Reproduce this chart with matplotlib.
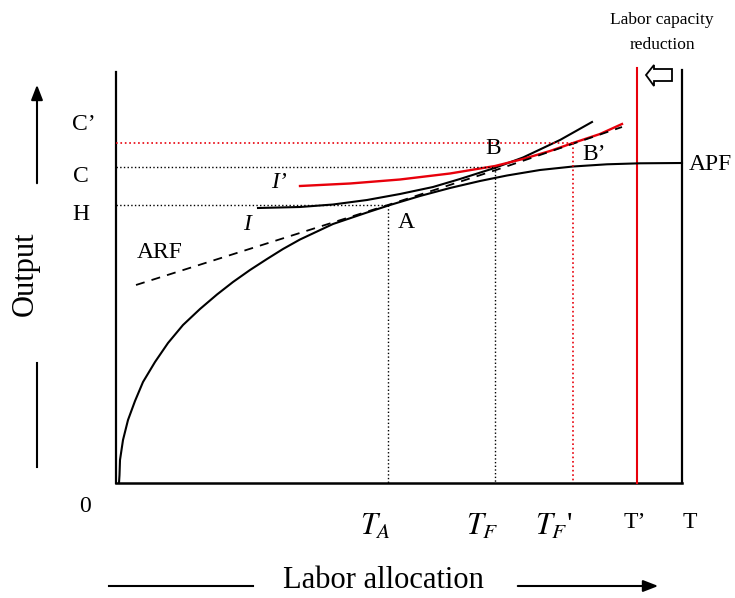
import matplotlib; matplotlib.use('Agg')
import numpy as np
from matplotlib import pyplot as plt
from matplotlib.patches import Polygon

plt.rcParams.update({
    'font.family': ['Liberation Serif', 'DejaVu Serif'],
    'mathtext.fontset': 'stix',
})

# Diagram traced in picture units (x to the right, y downward)
# APF: average product function
apf_x = [119, 119.5, 120, 121.5, 123, 128, 135, 143, 155, 168, 183, 200, 217,
         233, 250, 267, 283, 300, 333, 367, 390, 420, 450, 480, 507, 540, 573,
         607, 640, 682]
apf_y = [483, 475, 460, 450, 440, 420, 401, 382, 362, 343, 325, 309, 294.5,
         282, 270, 259, 249, 239.5, 224, 212.5, 205, 196, 188, 181, 175.5, 170, 166.5,
         164.3, 163.3, 163]

# I: indifference curve (before)
i_x = [258, 300, 333, 367, 400, 433, 460, 493, 523, 560, 592]
i_y = [208, 207, 204.5, 200, 194, 187, 179, 168.5, 157.5, 140, 122]

# I': indifference curve (after labour reduction)
i2_x = [300, 350, 400, 450, 495, 523, 550, 573, 600, 622]
i2_y = [186, 183.5, 179.5, 173.5, 166, 159, 151, 143, 134, 124]

# ARF: dashed
arf_x = [136, 388, 496, 622]
arf_y = [285, 205, 170, 127]

# reference levels
x_left, x_right, x_tprime = 116, 682, 637
y_base, y_top = 483, 70
y_H, y_C, y_C2 = 205, 167, 143
x_TA, x_TF, x_TF2 = 388, 495, 573

fig = plt.figure(figsize=(7.35, 5.98), dpi=100)
ax = fig.add_axes([0, 0, 1, 1])
ax.set_xlim(0, 735)
ax.set_ylim(598, 0)
ax.axis('off')

K = 'black'
R = '#e8000b'

# frame
ax.plot([x_left, x_left], [y_top + 2, y_base], color=K, lw=1.6)
ax.plot([x_left, x_right], [y_base, y_base], color=K, lw=1.8)
ax.plot([x_right, x_right], [y_top, y_base], color=K, lw=1.6)
ax.plot([x_tprime, x_tprime], [y_top - 2, y_base], color=R, lw=1.5)

# curves
ax.plot(apf_x, apf_y, color=K, lw=1.5, solid_joinstyle='round')
ax.plot(i_x, i_y, color=K, lw=1.5, solid_joinstyle='round')
ax.plot(i2_x, i2_y, color=R, lw=1.7, solid_joinstyle='round')
ax.plot(arf_x, arf_y, color=K, lw=1.3, ls=(0, (5, 4)))

# guides
ax.plot([x_left, x_TA], [y_H, y_H], color=K, lw=1.0, ls=':')
ax.plot([x_left, x_TF], [y_C, y_C], color=K, lw=1.0, ls=':')
ax.plot([x_left, x_TF2], [y_C2, y_C2], color=R, lw=1.2, ls=':')
ax.plot([x_TA, x_TA], [y_H, y_base], color=K, lw=1.0, ls=':')
ax.plot([x_TF, x_TF], [y_C, y_base], color=K, lw=1.0, ls=':')
ax.plot([x_TF2, x_TF2], [y_C2, y_base], color=R, lw=1.2, ls=':')

# hollow arrow for labour capacity reduction
ax.add_patch(Polygon([(646, 75), (654, 65), (654, 69), (672, 69),
                      (672, 81), (654, 81), (654, 86)],
                     closed=True, facecolor='white', edgecolor=K, lw=1.3))
ax.text(662, 20, 'Labor capacity', ha='center', va='center', fontsize=12.5)
ax.text(662, 45, 'reduction', ha='center', va='center', fontsize=12.5)

# axis arrows
ax.annotate('', xy=(37, 82), xytext=(37, 186),
            arrowprops=dict(arrowstyle='-|>,head_length=0.9,head_width=0.35',
                            color=K, lw=1.5))
ax.plot([37, 37], [363, 467], color=K, lw=1.5)
ax.text(25, 274, 'Output', rotation=90, ha='center', va='center', fontsize=22)

ax.plot([109, 253], [586, 586], color=K, lw=1.5)
ax.annotate('', xy=(661, 586), xytext=(515, 586),
            arrowprops=dict(arrowstyle='-|>,head_length=0.9,head_width=0.35',
                            color=K, lw=1.5))
ax.text(383, 580, 'Labor allocation', ha='center', va='center', fontsize=22)

# labels
fs = 17
ax.text(84, 125, 'C\u2019', ha='center', va='center', fontsize=fs)
ax.text(81, 176, 'C', ha='center', va='center', fontsize=fs)
ax.text(81, 215, 'H', ha='center', va='center', fontsize=fs)
ax.text(85, 507, '0', ha='center', va='center', fontsize=fs)
ax.text(279, 183, 'I\u2019', ha='center', va='center', fontsize=fs, style='italic')
ax.text(247, 224, 'I', ha='center', va='center', fontsize=fs, style='italic')
ax.text(160, 253, 'ARF', ha='center', va='center', fontsize=fs)
ax.text(406, 222, 'A', ha='center', va='center', fontsize=fs)
ax.text(493, 148, 'B', ha='center', va='center', fontsize=fs)
ax.text(594, 154, 'B\u2019', ha='center', va='center', fontsize=fs)
ax.text(710, 165, 'APF', ha='center', va='center', fontsize=fs)
ax.text(635, 523, 'T\u2019', ha='center', va='center', fontsize=fs)
ax.text(690, 523, 'T', ha='center', va='center', fontsize=fs)
ax.text(376, 527, r'$T_A$', ha='center', va='center', fontsize=22)
ax.text(482, 527, r'$T_F$', ha='center', va='center', fontsize=22)
ax.text(554, 527, r"$T_F$'", ha='center', va='center', fontsize=22)

plt.savefig('out.png', dpi=100)
plt.close()
